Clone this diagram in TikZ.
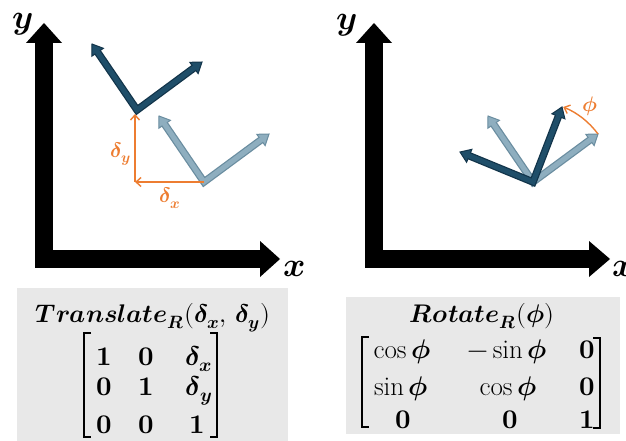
\documentclass[tikz,border=0pt]{standalone}
\usepackage{amsmath}
\usepackage{unicode-math}
\setmathfont{Latin Modern Math}
\usetikzlibrary{calc,arrows.meta}
\definecolor{dkfill}{HTML}{1F4E69}
\definecolor{dkline}{HTML}{12344A}
\definecolor{ltfill}{HTML}{8EAEBF}
\definecolor{ltline}{HTML}{6A8DA0}
\definecolor{orng}{HTML}{ED7D31}
\definecolor{boxgray}{HTML}{E8E8E8}
\newcommand{\frameV}[5]{%
  \coordinate (fvA) at ($(#2)!10pt!(#1)$);
  \coordinate (fvB) at ($(#3)!10pt!(#1)$);
  \coordinate (fvAi) at ($(#2)!8pt!(#1)$);
  \coordinate (fvBi) at ($(#3)!8pt!(#1)$);
  \draw[#5, line width=7.5pt, line join=miter] (fvA) -- (#1) -- (fvB);
  \fill[#4, draw=#5, line width=1pt, line join=miter] (#2) -- ($(fvA)!7pt!90:(#2)$) -- ($(fvA)!7pt!-90:(#2)$) -- cycle;
  \fill[#4, draw=#5, line width=1pt, line join=miter] (#3) -- ($(fvB)!7pt!90:(#3)$) -- ($(fvB)!7pt!-90:(#3)$) -- cycle;
  \draw[#4, line width=5pt, line join=miter] (fvAi) -- (#1) -- (fvBi);
}
\newcommand{\bfi}[1]{\symbfit{#1}}
\newcommand{\bfu}[1]{\symbf{#1}}
\tikzset{
  axis/.style={line width=18pt, line join=miter},
  axislbl/.style={font=\fontsize{34}{38}\selectfont, inner sep=0pt, anchor=base},
  orarrow/.style={orng, line width=1.4pt, -{Straight Barb[length=5pt,width=9pt]}},
  orlbl/.style={orng, font=\fontsize{21}{24}\selectfont, inner sep=0pt},
  ttl/.style={font=\fontsize{25.5}{28}\selectfont, anchor=base, inner sep=0pt},
  ent/.style={font=\fontsize{27}{30}\selectfont, anchor=base, inner sep=0pt},
  brk/.style={line width=1.8pt, line cap=butt, line join=miter}
}
\begin{document}
\begin{tikzpicture}[x=1pt,y=-1pt]
\useasboundingbox (0,0) rectangle (626,441);
% ---------- left panel ----------
\coordinate (LaxTop) at (44,23);
\coordinate (LaxO) at (44,259);
\coordinate (LaxR) at (280,259);
\draw[axis] (44,43) -- (LaxO) -- (260,259);
\fill (LaxTop) -- (26,43) -- (62,43) -- cycle;
\fill (LaxR) -- (260,241) -- (260,277) -- cycle;
\node[axislbl] (ly) at (23,29) {$\bfi{y}$};
\node[axislbl] (lx) at (295,276) {$\bfi{x}$};
% light frame (original)
\coordinate (lc) at (204,182);
\coordinate (lu) at (159,116);
\coordinate (lr) at (269,134);
\frameV{lc}{lu}{lr}{ltfill}{ltline}
% dark frame (translated)
\coordinate (dc) at (137,110);
\coordinate (du) at (92,44);
\coordinate (dr) at (202,62);
\frameV{dc}{du}{dr}{dkfill}{dkline}
% translation arrows
\coordinate (tc) at (135,182);
\coordinate (tt) at (135,114);
\draw[orarrow] (lc) -- (tc);
\draw[orarrow] (tc) -- (tt);
\node[orlbl] (dy) at (121,154) {$\bfi{\delta}_{\bfi{y}}$};
\node[orlbl] (dx) at (170,198) {$\bfi{\delta}_{\bfi{x}}$};
% ---------- right panel ----------
\coordinate (RaxTop) at (374,23);
\coordinate (RaxO) at (374,259);
\coordinate (RaxR) at (610,259);
\draw[axis] (374,43) -- (RaxO) -- (589,259);
\fill (RaxTop) -- (356,43) -- (392,43) -- cycle;
\fill (RaxR) -- (589,241) -- (589,277) -- cycle;
\node[axislbl] (ry) at (347,30) {$\bfi{y}$};
\node[axislbl] (rx) at (624,276) {$\bfi{x}$};
\coordinate (rc) at (533,182);
\coordinate (rlu) at (488,116);
\coordinate (rlr) at (598,134);
\coordinate (rdu) at (562,107);
\coordinate (rdl) at (460,152);
\frameV{rc}{rlu}{rlr}{ltfill}{ltline}
\frameV{rc}{rdl}{rdu}{dkfill}{dkline}
\draw[orng, line width=1.4pt, -{Straight Barb[length=5pt,width=9pt]}] (rlr) arc[start angle=-36.4, end angle=-68, radius=80.8];
\node[orlbl] (phi) at (590,106) {$\bfi{\phi}$};
% ---------- boxes ----------
\fill[boxgray] (17,288) rectangle (288,441);
\fill[boxgray] (346,297) rectangle (620,434);
% translate matrix
\node[ttl] (tt1) at (153,322) {$\bfi{Translate}_{\bfi{R}}\bfu{(}\bfi{\delta}_{\bfi{x}}\bfu{,}\,\bfi{\delta}_{\bfi{y}}\bfu{)}$};
\node[ent] (a11) at (104,365) {$\bfu{1}$};
\node[ent] (a12) at (146,365) {$\bfu{0}$};
\node[ent] (a13) at (199,365) {$\bfi{\delta}_{\bfi{x}}$};
\node[ent] (a21) at (104,395) {$\bfu{0}$};
\node[ent] (a22) at (146,395) {$\bfu{1}$};
\node[ent] (a23) at (199,395) {$\bfi{\delta}_{\bfi{y}}$};
\node[ent] (a31) at (104,433) {$\bfu{0}$};
\node[ent] (a32) at (146,433) {$\bfu{0}$};
\node[ent] (a33) at (197,433) {$\bfu{1}$};
\draw[brk] (91,333) -- (84,333) -- (84,437) -- (91,437);
\draw[brk] (210,333) -- (217,333) -- (217,437) -- (210,437);
% rotate matrix
\node[ttl] (rt1) at (482,322) {$\bfi{Rotate}_{\bfi{R}}\bfu{(}\bfi{\phi}\bfu{)}$};
\node[ent] (b11) at (402,358) {$\cos\bfi{\phi}$};
\node[ent] (b12) at (507,358) {$-\sin\bfi{\phi}$};
\node[ent] (b13) at (587,358) {$\bfu{0}$};
\node[ent] (b21) at (401,395) {$\sin\bfi{\phi}$};
\node[ent] (b22) at (508,395) {$\cos\bfi{\phi}$};
\node[ent] (b23) at (587,395) {$\bfu{0}$};
\node[ent] (b31) at (403,428) {$\bfu{0}$};
\node[ent] (b32) at (510,428) {$\bfu{0}$};
\node[ent] (b33) at (587,428) {$\bfu{1}$};
\draw[brk] (369,337) -- (362,337) -- (362,427) -- (369,427);
\draw[brk] (593,338) -- (600,338) -- (600,428) -- (593,428);
\end{tikzpicture}
\end{document}
